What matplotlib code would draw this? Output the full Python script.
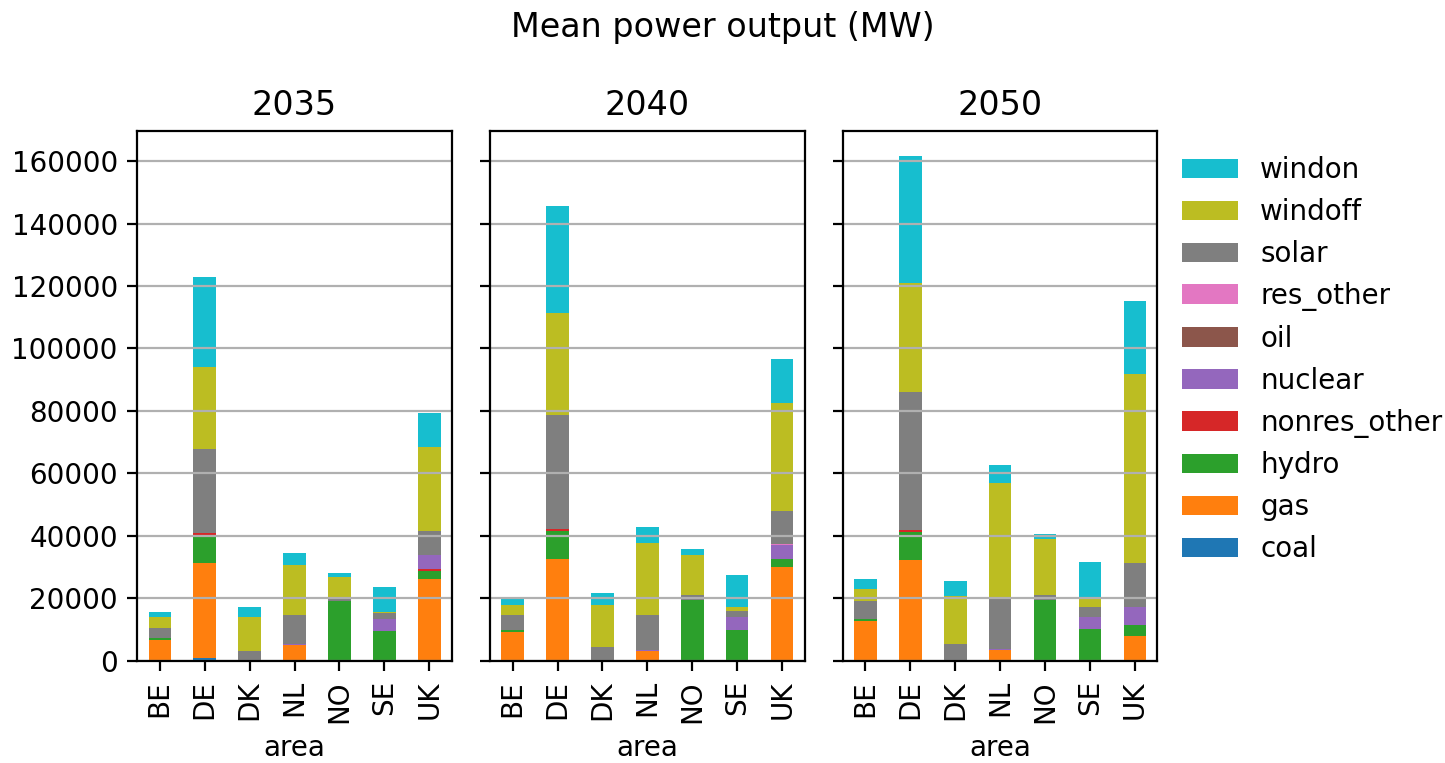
import numpy as np
import pandas as pd
import matplotlib
matplotlib.use('Agg')
import matplotlib.pyplot as plt

areas = ['BE', 'DE', 'DK', 'NL', 'NO', 'SE', 'UK']
techs = ['coal', 'gas', 'hydro', 'nonres_other', 'nuclear', 'oil',
         'res_other', 'solar', 'windoff', 'windon']
years = ['2035', '2040', '2050']

# mean output per technology (rows) and area (columns), MW
mw_2035 = [
    [0, 800, 0, 0, 0, 0, 0],                    # coal
    [6700, 30500, 0, 4900, 0, 0, 26200],        # gas
    [700, 8800, 0, 0, 19000, 9400, 2400],       # hydro
    [0, 800, 0, 0, 0, 0, 800],                  # nonres_other
    [0, 0, 0, 400, 0, 4000, 4400],              # nuclear
    [0, 0, 0, 0, 0, 0, 0],                      # oil
    [0, 0, 0, 0, 0, 0, 0],                      # res_other
    [3200, 27000, 3000, 9200, 800, 1900, 7700], # solar
    [3300, 26300, 10900, 16200, 6900, 300, 27000],  # windoff
    [1800, 28800, 3200, 3800, 1400, 8000, 10900],   # windon
]
mw_2040 = [
    [0, 0, 0, 0, 0, 0, 0],
    [9300, 32600, 0, 3000, 0, 0, 29900],
    [600, 8900, 0, 0, 19600, 9900, 2700],
    [0, 700, 0, 0, 0, 0, 0],
    [0, 0, 0, 500, 0, 4000, 4500],
    [0, 0, 0, 0, 0, 0, 0],
    [0, 0, 0, 0, 0, 0, 400],
    [4600, 36500, 4300, 11000, 1600, 1900, 10400],
    [3200, 32800, 13400, 23200, 12600, 1300, 34700],
    [2100, 34000, 4000, 5000, 2000, 10300, 14100],
]
mw_2050 = [
    [0, 0, 0, 0, 0, 0, 0],
    [12600, 32400, 0, 3600, 0, 0, 8000],
    [700, 8900, 0, 0, 19600, 10100, 3300],
    [0, 700, 0, 0, 0, 0, 0],
    [0, 0, 0, 300, 0, 3800, 5800],
    [0, 0, 0, 0, 0, 0, 0],
    [0, 0, 0, 0, 0, 0, 0],
    [5800, 44200, 5500, 16000, 1300, 3200, 14200],
    [3800, 34700, 15200, 36900, 18000, 3100, 60400],
    [3200, 40600, 4700, 5800, 1800, 11500, 23500],
]

fig, axes = plt.subplots(1, 3, sharey=True, figsize=(7.225, 3.815), dpi=200)
fig.subplots_adjust(left=0.095, right=0.801, bottom=0.134, top=0.828, wspace=0.122)

for ax, year, vals in zip(axes, years, [mw_2035, mw_2040, mw_2050]):
    df = pd.DataFrame(np.array(vals).T, index=pd.Index(areas, name='area'), columns=techs)
    df.plot(kind='bar', stacked=True, ax=ax, legend=False)
    ax.set_title(year)
    ax.grid(axis='y')

# legend next to the last panel, top entry = top of the stack
handles, labels = axes[-1].get_legend_handles_labels()
axes[-1].legend(handles[::-1], labels[::-1], loc='upper left',
                bbox_to_anchor=(1, 1), frameon=False)

fig.suptitle('Mean power output (MW)', y=0.985)
fig.savefig('out.png', dpi=200)
